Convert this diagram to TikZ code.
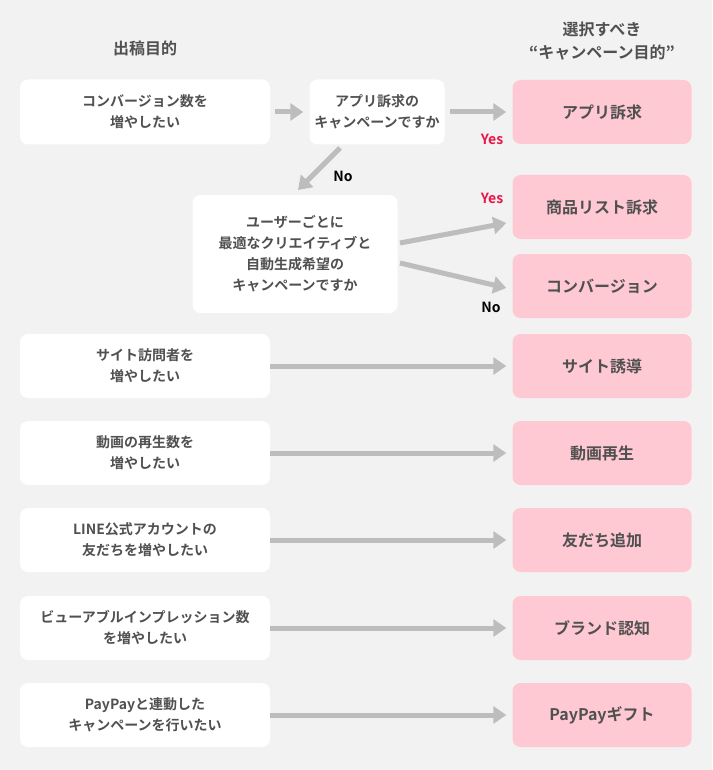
\documentclass[tikz,border=0pt]{standalone}
\usepackage{fontspec}
\setmainfont{Noto Sans CJK JP}[BoldFont={Noto Sans CJK JP Bold}]
\usetikzlibrary{arrows.meta}
\definecolor{bg}{HTML}{F2F2F2}
\definecolor{pk}{HTML}{FFC9D3}
\definecolor{tx}{HTML}{505050}
\definecolor{ar}{HTML}{BDBDBD}
\definecolor{rd}{HTML}{E8174A}
\begin{document}
\begin{tikzpicture}[x=1pt,y=-1pt,
 wb/.style={fill=white,rounded corners=8pt,draw=none,text=tx,font=\bfseries\fontsize{14}{21}\selectfont,align=center,inner sep=0},
 pb/.style={fill=pk,rounded corners=8pt,draw=none,text=tx,font=\bfseries\fontsize{16}{20}\selectfont,align=center,minimum width=179pt,minimum height=64pt,inner sep=0},
 ar/.style={draw=ar,line width=5pt,-{Triangle[length=13pt,width=17pt]}},
 lb/.style={font=\bfseries\fontsize{14}{16}\selectfont}]
\fill[bg] (0,0) rectangle (712,770);
\node[text=tx,font=\bfseries\fontsize{16}{18}\selectfont] (h1) at (145,48) {出稿目的};
\node[text=tx,font=\bfseries\fontsize{16}{23}\selectfont,align=center] (h2) at (602,41) {選択すべき\\“キャンペーン目的”};
\node[wb,minimum width=250pt,minimum height=65pt] (l1) at (145,112) {コンバージョン数を\\増やしたい};
\node[wb,minimum width=135pt,minimum height=65pt] (q1) at (377,112) {アプリ訴求の\\キャンペーンですか};
\node[wb,minimum width=205pt,minimum height=118pt] (q2) at (295,254) {ユーザーごとに\\最適なクリエイティブと\\自動生成希望の\\キャンペーンですか};
\node[pb] (p1) at (602,112) {アプリ訴求};
\node[pb] (p2) at (602,207) {商品リスト訴求};
\node[pb] (p3) at (602,286) {コンバージョン};
\foreach \n/\y/\l/\r in {3/366/{サイト訪問者を\\増やしたい}/サイト誘導,4/453/{動画の再生数を\\増やしたい}/動画再生,5/540/{LINE公式アカウントの\\友だちを増やしたい}/友だち追加,6/628/{ビューアブルインプレッション数\\を増やしたい}/ブランド認知,7/715/{PayPayと連動した\\キャンペーンを行いたい}/PayPayギフト}{
 \node[wb,minimum width=250pt,minimum height=64pt] (l\n) at (145,\y) {\l};
 \node[pb] (r\n) at (602,\y) {\r};
 \draw[ar] (l\n.east) -- ([xshift=-6pt]r\n.west);
}
\draw[ar] ([xshift=5pt]l1.east) -- ([xshift=-6pt]q1.west);
\draw[ar] ([xshift=5pt]q1.east) -- ([xshift=-6pt]p1.west);
\coordinate (d1) at (340,148);
\draw[ar] (d1) -- (298,190);
\draw[ar] (400,243) -- ([xshift=-6pt,yshift=-16pt]p2.west);
\draw[ar] (400,263) -- ([xshift=-6pt,yshift=-2pt]p3.west);
\node[lb,text=rd] (y1) at (492,139) {Yes};
\node[lb,text=black] (n1) at (343,176) {No};
\node[lb,text=rd] (y2) at (492,198) {Yes};
\node[lb,text=black] (n2) at (491,307) {No};
\end{tikzpicture}
\end{document}
